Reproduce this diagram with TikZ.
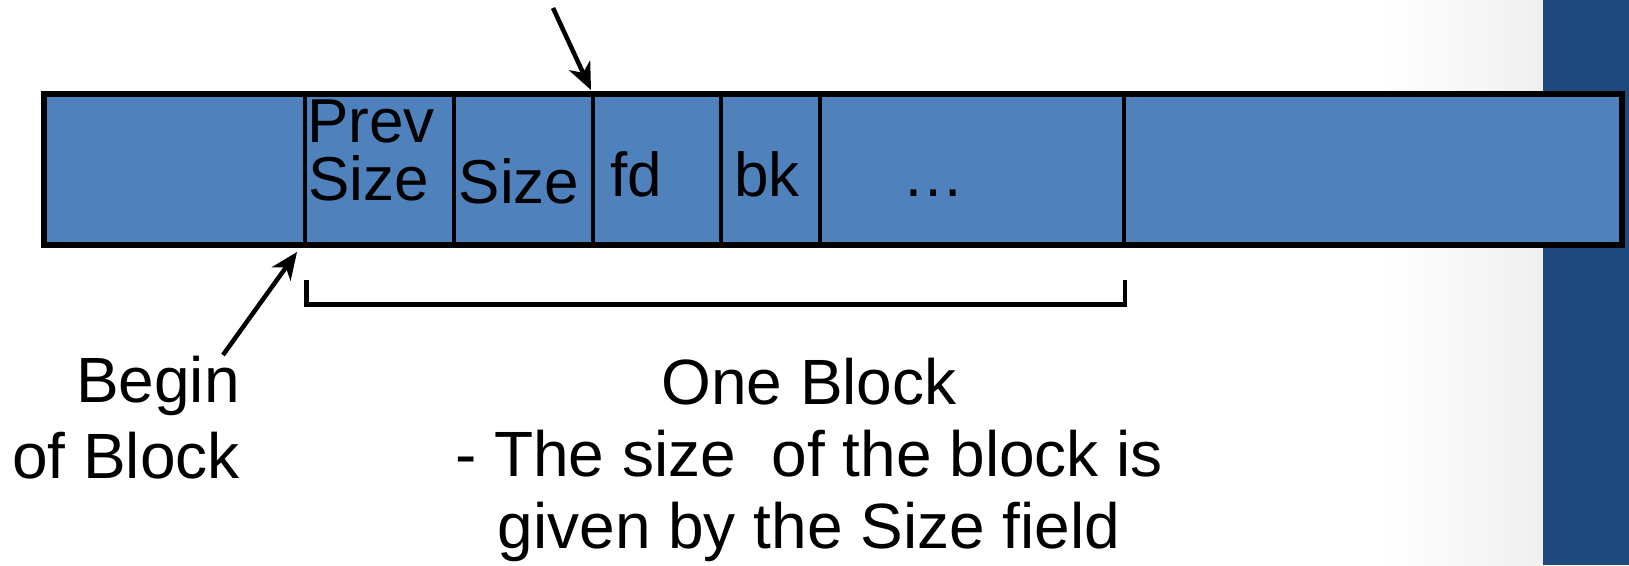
\documentclass[tikz,border=0pt]{standalone}
\usepackage{fontspec}
\setmainfont{Liberation Sans}
\usetikzlibrary{arrows.meta}
\definecolor{cellblue}{RGB}{79,129,189}
\definecolor{bandblue}{RGB}{31,73,125}
\definecolor{fadegray}{RGB}{240,240,240}
\tikzset{
  cell/.style={draw=black, line width=4.5pt, fill=cellblue, inner sep=0pt, outer sep=0pt},
  celltext/.style={font=\fontsize{62}{62}\selectfont, inner sep=0pt, anchor=base},
  caption/.style={font=\fontsize{64}{72}\selectfont, inner sep=0pt},
  pointer/.style={line width=4.5pt, -{Stealth[length=27pt, width=23pt, inset=8pt]}},
  brace/.style={line width=4.5pt, line cap=butt, line join=miter}
}
\newcommand{\cellbox}[3]{%
  \node[cell, minimum width=#3pt-#2pt, minimum height=151.5pt, anchor=north west]
    (#1) at (#2,93.5) {};}
\begin{document}
\begin{tikzpicture}[x=1pt, y=-1pt]
  \useasboundingbox (0,0) rectangle (1629,565);
  % page side decoration: soft shade and dark band
  \shade[left color=white, right color=fadegray] (1380,0) rectangle (1543,565);
  \fill[bandblue] (1543,0) rectangle (1629,565);

  % the chunk fields
  \cellbox{pre}{44}{305}
  \cellbox{psize}{305}{454}
  \cellbox{size}{454}{593}
  \cellbox{fd}{593}{721}
  \cellbox{bk}{721}{820}
  \cellbox{rest}{820}{1124}
  \cellbox{post}{1124}{1622}
  \draw[line width=6pt] (pre.north west) rectangle (post.south east);

  % field labels
  \node[celltext, anchor=base west] (tprev) at (307,142) {Prev};
  \node[celltext, anchor=base west] (tpsize) at (308,200) {Size};
  \node[celltext] (tsize) at (519,203) {Size};
  \node[celltext] (tfd) at (636,196) {fd};
  \node[celltext] (tbk) at (767,196) {bk};
  \node[celltext] (tdots) at (933,196) {…};

  % pointers
  \coordinate (ptrtop) at (553,8);
  \coordinate (fdtip) at (591,90);
  \draw[pointer] (ptrtop) -- (fdtip);

  \node[caption, anchor=base east] (begin1) at (240,402) {Begin};
  \node[caption, anchor=base east] (begin2) at (240,478) {of Block};
  \coordinate (begintail) at (223,355);
  \coordinate (begintip) at (297,252);
  \draw[pointer] (begintail) -- (begintip);

  % extent of one block
  \coordinate (bl) at (306.5,280);
  \coordinate (br) at (1125,280);
  \draw[brace] (bl) -- (306.5,304.5) -- (1125,304.5) -- (br);

  \node[caption, anchor=base] (one) at (809,404) {One Block};
  \node[caption, anchor=base] (desc1) at (809,476) {- The size\ \ of the block is};
  \node[caption, anchor=base] (desc2) at (809,548) {given by the Size field};
\end{tikzpicture}
\end{document}
